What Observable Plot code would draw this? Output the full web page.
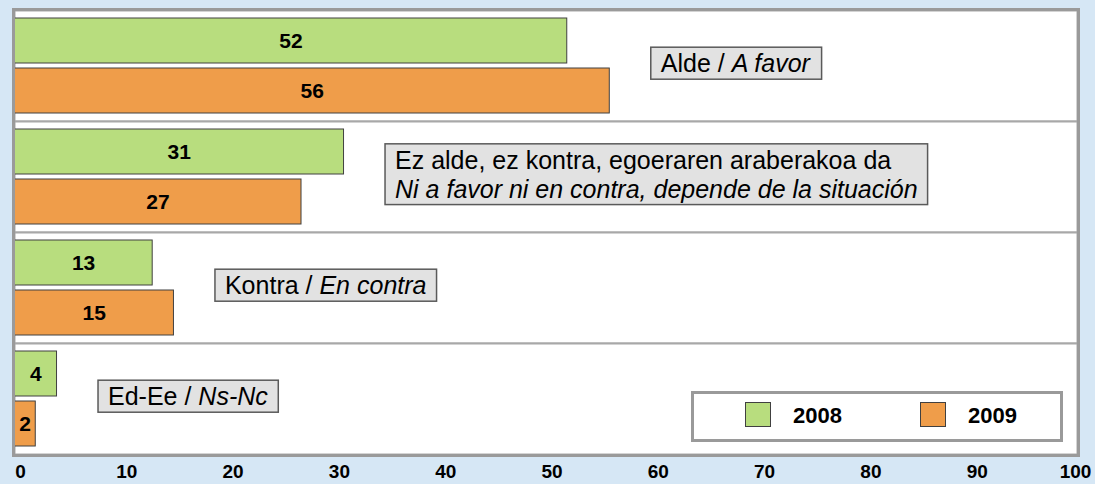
<!DOCTYPE html>
<html>
<head>
<meta charset="utf-8">
<script src="https://cdn.jsdelivr.net/npm/d3@7"></script>
<script src="https://cdn.jsdelivr.net/npm/@observablehq/plot@0.6"></script>
<style>
  html, body { margin: 0; padding: 0; background: #d6e7f5; }
  #wrap { position: relative; width: 1095px; height: 484px; overflow: hidden; font-family: "Liberation Sans", Arial, sans-serif; }
  #wrap svg { display: block; }
  #border { position: absolute; left: 12px; top: 8px; width: 1068px; height: 449px; box-sizing: border-box; border: 3px solid #9a9a9a; pointer-events: none; }
  #legend { position: absolute; left: 691px; top: 391px; width: 372px; height: 51px; box-sizing: border-box; border: 3px solid #9a9a9a; background: #fff; }
  #legend .sw { position: absolute; top: 8px; width: 26px; height: 25px; box-sizing: border-box; border: 1px solid #404040; }
  #legend .lb { position: absolute; top: 10px; font-weight: bold; font-size: 22px; line-height: 24px; color: #000; }
</style>
</head>
<body>
<div id="wrap"></div>
<script>
// ---- data ----
const labelsEu = ["Alde", "Ez alde, ez kontra, egoeraren araberakoa da", "Kontra", "Ed-Ee"];
const labelsEs = ["A favor", "Ni a favor ni en contra, depende de la situación", "En contra", "Ns-Nc"];
const years = ["2008", "2009"];
const values2008 = [52, 31, 13, 4];
const values2009 = [56, 27, 15, 2];
const xTicks = [0, 10, 20, 30, 40, 50, 60, 70, 80, 90, 100];

// ---- derived tables ----
const categories = labelsEu.map((eu, i) => eu + "|" + labelsEs[i]);
const data = categories.flatMap((c, i) => [
  {category: c, year: years[0], value: values2008[i]},
  {category: c, year: years[1], value: values2009[i]}
]);
const labelData = categories.map((c, i) => ({
  category: c,
  max: Math.max(values2008[i], values2009[i]),
  text: labelsEu[i].length > 20 ? labelsEu[i] + "\n" + labelsEs[i] : labelsEu[i] + " / " + labelsEs[i]
}));

const font = "Liberation Sans, Arial, sans-serif";
const axisStyle = {tickSize: 0, tickPadding: 10, fontWeight: "bold", fontSize: 19, fill: "black",
  label: null, tickFormat: d => String(d)};

const chart = Plot.plot({
  width: 1095,
  height: 484,
  marginLeft: 14,
  marginRight: 18,
  marginTop: 10,
  marginBottom: 30,
  style: {background: "transparent", fontFamily: font, color: "black", overflow: "visible"},
  x: {domain: [0, 100]},
  y: {domain: years, paddingInner: 0.1, paddingOuter: 0.16, axis: null},
  fy: {domain: categories, padding: 0, axis: null},
  color: {domain: years, range: ["#b8dd7e", "#ef9d4a"]},
  marks: [
    Plot.frame({fill: "white", stroke: "#a8a8a8", strokeWidth: 2}),
    Plot.barX(data, {x: "value", y: "year", fy: "category", fill: "year", stroke: "#404040", strokeWidth: 1}),
    Plot.text(data, {x: d => d.value / 2, y: "year", fy: "category", text: d => String(d.value),
      fontWeight: "bold", fontSize: 21, fill: "black"}),
    Plot.text(labelData, {x: "max", fy: "category", text: "text", textAnchor: "start", dx: 51, dy: -3,
      fontSize: 25, lineHeight: 1.15, fill: "black"}),
    Plot.axisX(xTicks.slice(0, -1), {...axisStyle, dx: 6}),
    Plot.axisX(xTicks.slice(-1), {...axisStyle, dx: -2})
  ]
});

const wrap = document.getElementById("wrap");
wrap.appendChild(chart);

// outer plot border
const border = document.createElement("div");
border.id = "border";
wrap.appendChild(border);

// italic Spanish parts + grey boxes behind category labels
const ns = "http://www.w3.org/2000/svg";
const labelTexts = Array.from(chart.querySelectorAll("text")).filter(t =>
  labelsEs.some(es => t.textContent.includes(es)) && labelsEu.some(eu => t.textContent.startsWith(eu)));
labelTexts.forEach(t => {
  t.style.whiteSpace = "pre";
  const leaves = t.querySelectorAll("tspan").length ? Array.from(t.querySelectorAll("tspan")) : [t];
  leaves.forEach(node => {
    const s = node.textContent;
    const es = labelsEs.find(e => s.endsWith(e));
    if (!es) return;
    const before = s.slice(0, s.length - es.length);
    if (!before) { node.setAttribute("font-style", "italic"); return; }
    node.textContent = "";
    const a = document.createElementNS(ns, "tspan"); a.textContent = before;
    const b = document.createElementNS(ns, "tspan"); b.textContent = es; b.setAttribute("font-style", "italic");
    node.appendChild(a); node.appendChild(b);
  });
  const bb = t.getBBox();
  const r = document.createElementNS(ns, "rect");
  r.setAttribute("x", bb.x - 10);
  r.setAttribute("y", bb.y - 2);
  r.setAttribute("width", bb.width + 20);
  r.setAttribute("height", bb.height + 4);
  r.setAttribute("fill", "#e2e2e2");
  r.setAttribute("stroke", "#5a5a5a");
  r.setAttribute("stroke-width", 1.5);
  if (t.getAttribute("transform")) r.setAttribute("transform", t.getAttribute("transform"));
  t.parentNode.insertBefore(r, t);
});

// legend
const colorScale = chart.scale("color");
const legend = document.createElement("div");
legend.id = "legend";
const swX = [51, 226], lbX = [99, 274];
years.forEach((y, i) => {
  const sw = document.createElement("span");
  sw.className = "sw";
  sw.style.left = swX[i] + "px";
  sw.style.background = colorScale.range[i];
  const lb = document.createElement("span");
  lb.className = "lb";
  lb.style.left = lbX[i] + "px";
  lb.textContent = y;
  legend.appendChild(sw);
  legend.appendChild(lb);
});
wrap.appendChild(legend);
</script>
</body>
</html>
